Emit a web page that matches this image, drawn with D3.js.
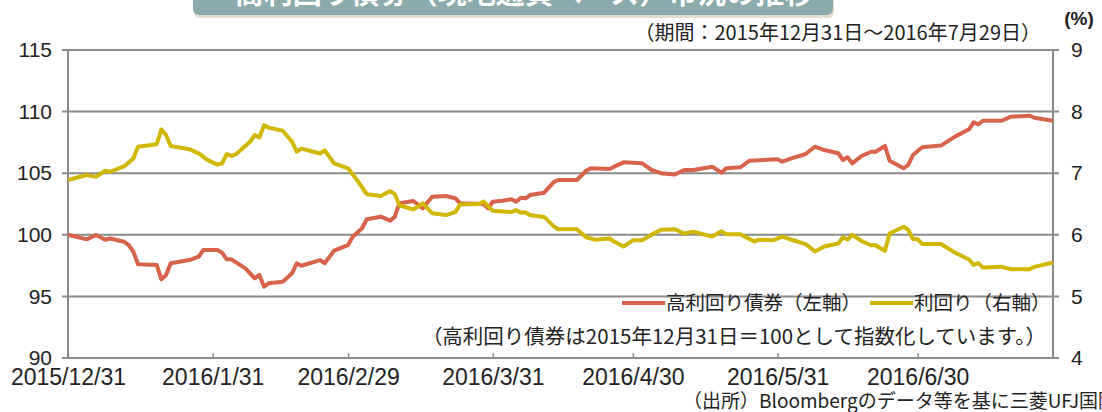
<!DOCTYPE html>
<html>
<head>
<meta charset="utf-8">
<script src="https://d3js.org/d3.v7.min.js"></script>
<style>
  body { margin: 0; background: #fff; }
  svg { display: block; }
  .num { font-family: "Liberation Sans", Arial, sans-serif; fill: #222; }
  .jp { font-family: "Noto Sans CJK JP", sans-serif; fill: #222; }
</style>
</head>
<body>
<svg id="chart" width="1102" height="412"></svg>
<script>
// high-yield bond index (left axis, 2015/12/31 = 100)
const idxDates = ["2015-12-31","2016-01-04","2016-01-06","2016-01-08","2016-01-09","2016-01-12","2016-01-13","2016-01-14","2016-01-15","2016-01-19","2016-01-20","2016-01-21","2016-01-22","2016-01-26","2016-01-28","2016-01-29","2016-02-01","2016-02-02","2016-02-03","2016-02-04","2016-02-07","2016-02-09","2016-02-10","2016-02-11","2016-02-12","2016-02-15","2016-02-17","2016-02-18","2016-02-19","2016-02-23","2016-02-24","2016-02-26","2016-02-29","2016-03-01","2016-03-03","2016-03-04","2016-03-07","2016-03-09","2016-03-10","2016-03-11","2016-03-14","2016-03-16","2016-03-18","2016-03-21","2016-03-23","2016-03-24","2016-03-29","2016-03-30","2016-03-31","2016-04-02","2016-04-04","2016-04-05","2016-04-06","2016-04-07","2016-04-08","2016-04-11","2016-04-13","2016-04-14","2016-04-18","2016-04-20","2016-04-21","2016-04-25","2016-04-26","2016-04-28","2016-05-02","2016-05-03","2016-05-04","2016-05-06","2016-05-09","2016-05-11","2016-05-13","2016-05-17","2016-05-19","2016-05-20","2016-05-23","2016-05-25","2016-05-31","2016-06-01","2016-06-03","2016-06-06","2016-06-08","2016-06-10","2016-06-13","2016-06-14","2016-06-15","2016-06-16","2016-06-18","2016-06-20","2016-06-21","2016-06-23","2016-06-24","2016-06-27","2016-06-28","2016-06-29","2016-07-01","2016-07-05","2016-07-08","2016-07-11","2016-07-12","2016-07-13","2016-07-14","2016-07-18","2016-07-20","2016-07-24","2016-07-25","2016-07-29"];
const idxValues = [100.0,99.63,99.98,99.6,99.7,99.44,99.17,98.63,97.6,97.55,96.39,96.74,97.69,97.95,98.22,98.77,98.77,98.55,98.01,98.01,97.28,96.47,96.74,95.79,96.06,96.19,96.87,97.69,97.49,97.95,97.69,98.71,99.17,99.85,100.53,101.26,101.47,101.15,101.47,102.56,102.74,102.15,103.09,103.15,102.96,102.56,102.5,102.15,102.69,102.77,102.88,102.69,103.01,102.96,103.23,103.42,104.26,104.45,104.45,105.2,105.4,105.34,105.53,105.88,105.8,105.53,105.26,105.0,104.9,105.26,105.26,105.53,105.04,105.4,105.48,106.02,106.13,105.93,106.21,106.56,107.15,106.88,106.62,106.07,106.29,105.8,106.4,106.74,106.74,107.21,106.02,105.4,105.67,106.48,107.11,107.24,107.97,108.56,109.13,108.97,109.26,109.26,109.59,109.67,109.5,109.26];

// yield in % (right axis)
const yldDates = ["2015-12-31","2016-01-04","2016-01-06","2016-01-08","2016-01-09","2016-01-12","2016-01-14","2016-01-15","2016-01-19","2016-01-20","2016-01-21","2016-01-22","2016-01-26","2016-01-28","2016-01-30","2016-02-01","2016-02-02","2016-02-03","2016-02-04","2016-02-05","2016-02-08","2016-02-09","2016-02-10","2016-02-11","2016-02-12","2016-02-15","2016-02-17","2016-02-18","2016-02-19","2016-02-23","2016-02-24","2016-02-26","2016-02-29","2016-03-02","2016-03-03","2016-03-04","2016-03-07","2016-03-09","2016-03-10","2016-03-11","2016-03-14","2016-03-16","2016-03-18","2016-03-21","2016-03-23","2016-03-24","2016-03-28","2016-03-29","2016-03-31","2016-04-04","2016-04-05","2016-04-06","2016-04-07","2016-04-08","2016-04-11","2016-04-13","2016-04-14","2016-04-18","2016-04-20","2016-04-22","2016-04-25","2016-04-26","2016-04-28","2016-04-30","2016-05-02","2016-05-04","2016-05-06","2016-05-09","2016-05-11","2016-05-13","2016-05-17","2016-05-19","2016-05-20","2016-05-23","2016-05-26","2016-05-27","2016-05-30","2016-06-01","2016-06-03","2016-06-06","2016-06-08","2016-06-10","2016-06-13","2016-06-14","2016-06-15","2016-06-16","2016-06-18","2016-06-20","2016-06-21","2016-06-23","2016-06-24","2016-06-27","2016-06-28","2016-06-29","2016-06-30","2016-07-01","2016-07-05","2016-07-08","2016-07-11","2016-07-12","2016-07-13","2016-07-14","2016-07-18","2016-07-20","2016-07-24","2016-07-25","2016-07-29"];
const yldValues = [6.89,6.97,6.94,7.04,7.02,7.11,7.24,7.43,7.47,7.71,7.62,7.44,7.39,7.32,7.21,7.14,7.16,7.31,7.28,7.31,7.51,7.62,7.58,7.78,7.74,7.69,7.51,7.35,7.40,7.32,7.37,7.16,7.08,6.88,6.77,6.66,6.63,6.71,6.66,6.48,6.41,6.51,6.35,6.32,6.37,6.49,6.5,6.54,6.39,6.37,6.40,6.36,6.36,6.32,6.29,6.14,6.09,6.09,5.96,5.92,5.94,5.89,5.81,5.91,5.91,6.0,6.08,6.09,6.02,6.05,5.97,6.06,6.01,6.01,5.89,5.92,5.91,5.97,5.92,5.85,5.73,5.81,5.86,5.96,5.92,6.0,5.90,5.83,5.83,5.74,6.02,6.13,6.08,5.93,5.93,5.85,5.85,5.71,5.60,5.51,5.54,5.47,5.48,5.44,5.44,5.48,5.55];

const xTickDates = ["2015-12-31","2016-01-31","2016-02-29","2016-03-31","2016-04-30","2016-05-31","2016-06-30"];
const leftTicks = [90, 95, 100, 105, 110, 115];
const rightTicks = [4, 5, 6, 7, 8, 9];

const chartTitle = "高利回り債券（現地通貨ベース）市況の推移";
const periodText = "（期間：2015年12月31日～2016年7月29日）";
const legendNames = ["高利回り債券（左軸）", "利回り（右軸）"];
const noteText = "（高利回り債券は2015年12月31日＝100として指数化しています。）";
const sourceText = "（出所）Bloombergのデータ等を基に三菱UFJ国際投信作成";

const redColor = "#d9634a";
const yellowColor = "#d2b700";
const gridColor = "#8a8a8a";

const parse = d3.timeParse("%Y-%m-%d");
const svg = d3.select("#chart");
const margin = { top: 50, left: 68, right: 49, bottom: 54 };
const plotW = 1102 - margin.left - margin.right;
const plotH = 412 - margin.top - margin.bottom;

const x = d3.scaleTime()
  .domain([parse("2015-12-31"), parse("2016-07-29")])
  .range([0, plotW]);
const yL = d3.scaleLinear().domain([90, 115]).range([plotH, 0]);
const yR = d3.scaleLinear().domain([4, 9]).range([plotH, 0]);

// title banner (cut at the top edge)
svg.append("rect")
  .attr("x", 194).attr("y", -20).attr("width", 640).attr("height", 38)
  .attr("rx", 6).attr("fill", "#e4dccb");
svg.append("rect")
  .attr("x", 193).attr("y", -20).attr("width", 640).attr("height", 35)
  .attr("rx", 6).attr("fill", "#8aabab");
svg.append("text")
  .attr("class", "jp")
  .attr("x", 524).attr("y", 4)
  .attr("text-anchor", "middle")
  .style("font-size", "29px").style("font-weight", "bold")
  .style("fill", "#fff")
  .text(chartTitle);

svg.append("text").attr("class", "jp")
  .attr("x", 1041).attr("y", 40)
  .attr("text-anchor", "end")
  .style("font-size", "20px")
  .text(periodText);

svg.append("text").attr("class", "num")
  .attr("x", 1079).attr("y", 25)
  .attr("text-anchor", "middle")
  .style("font-size", "19px").style("font-weight", "bold")
  .text("(%)");

const g = svg.append("g").attr("transform", `translate(${margin.left},${margin.top})`);

// gridlines, they poke out on both sides like tick marks
g.append("g").selectAll("line")
  .data(leftTicks)
  .join("line")
  .attr("x1", -6).attr("x2", plotW + 6)
  .attr("y1", d => yL(d)).attr("y2", d => yL(d))
  .attr("stroke", gridColor).attr("stroke-width", 2);

// vertical axes
g.append("line").attr("x1", 0).attr("x2", 0).attr("y1", 0).attr("y2", plotH)
  .attr("stroke", gridColor).attr("stroke-width", 2);
g.append("line").attr("x1", plotW).attr("x2", plotW).attr("y1", 0).attr("y2", plotH)
  .attr("stroke", gridColor).attr("stroke-width", 2);

const leftAxis = g.append("g")
  .call(d3.axisLeft(yL).tickValues(leftTicks).tickSize(0).tickPadding(16));
const rightAxis = g.append("g")
  .attr("transform", `translate(${plotW},0)`)
  .call(d3.axisRight(yR).tickValues(rightTicks).tickFormat(d3.format("d")).tickSize(0).tickPadding(18));
const bottomAxis = g.append("g")
  .attr("transform", `translate(0,${plotH})`)
  .call(d3.axisBottom(x).tickValues(xTickDates.map(parse))
    .tickFormat(d3.timeFormat("%Y/%-m/%-d"))
    .tickSizeInner(-5).tickSizeOuter(0).tickPadding(11));

[leftAxis, rightAxis, bottomAxis].forEach(a => {
  a.select(".domain").remove();
  a.selectAll("text").attr("class", "num").style("font-size", "21px").attr("fill", "#222");
});
bottomAxis.selectAll("text").style("font-size", "23px");
bottomAxis.selectAll(".tick line").attr("stroke", gridColor).attr("stroke-width", 1.5);

const idxData = idxDates.map((d, i) => ({ date: parse(d), value: idxValues[i] }));
const yldData = yldDates.map((d, i) => ({ date: parse(d), value: yldValues[i] }));

g.append("path")
  .datum(idxData)
  .attr("fill", "none")
  .attr("stroke", redColor).attr("stroke-width", 4)
  .attr("stroke-linejoin", "round")
  .attr("d", d3.line().x(d => x(d.date)).y(d => yL(d.value)));

g.append("path")
  .datum(yldData)
  .attr("fill", "none")
  .attr("stroke", yellowColor).attr("stroke-width", 4)
  .attr("stroke-linejoin", "round")
  .attr("d", d3.line().x(d => x(d.date)).y(d => yR(d.value)));

// legend
const legend = svg.append("g").attr("transform", "translate(0,303)");
const legendItems = [
  { name: legendNames[0], color: redColor, x: 622 },
  { name: legendNames[1], color: yellowColor, x: 870 }
];
legendItems.forEach(item => {
  legend.append("line")
    .attr("x1", item.x).attr("x2", item.x + 43)
    .attr("stroke", item.color).attr("stroke-width", 4);
  legend.append("text").attr("class", "jp")
    .attr("x", item.x + 44).attr("y", 7)
    .style("font-size", "19.5px")
    .text(item.name);
});

svg.append("text").attr("class", "jp")
  .attr("x", 1046).attr("y", 344)
  .attr("text-anchor", "end")
  .style("font-size", "20.5px")
  .text(noteText);

svg.append("text").attr("class", "jp")
  .attr("x", 683).attr("y", 408)
  .style("font-size", "19px")
  .text(sourceText);
</script>
</body>
</html>
